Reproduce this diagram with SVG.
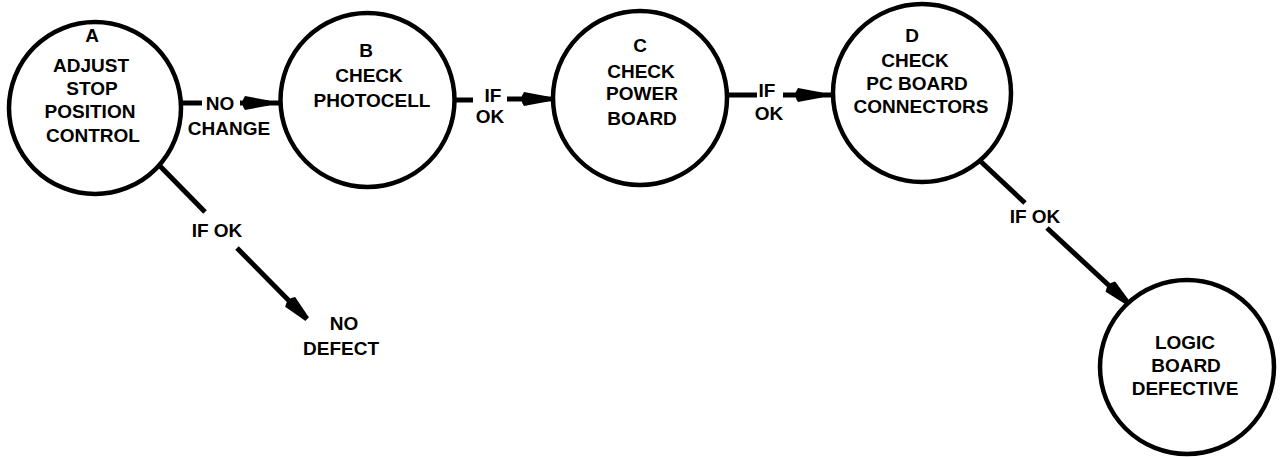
<svg xmlns="http://www.w3.org/2000/svg" width="1280" height="457" viewBox="0 0 1280 457">
<style>
.node{fill:#fff;stroke:#000;stroke-width:4.5}
.t{font-family:"Liberation Sans",Arial,sans-serif;font-size:19px;font-weight:bold;fill:#000;text-anchor:middle}
.c{stroke:#000;stroke-width:5;fill:none;stroke-linecap:butt}
</style>
<defs>
<path id="ah" d="M0,-2.5 L-24,-7 Q-29,0 -24,7 L0,2.5 Z" fill="#000"/>
</defs>
<rect width="1280" height="457" fill="#fff"/>
<g id="connectors">
<line class="c" x1="182" y1="103" x2="202" y2="103"/>
<line class="c" x1="240" y1="103" x2="283" y2="103"/>
<use href="#ah" transform="translate(269,103)"/>
<line class="c" x1="454" y1="100" x2="473" y2="100"/>
<line class="c" x1="507" y1="99" x2="555" y2="99"/>
<use href="#ah" transform="translate(548,99)"/>
<line class="c" x1="727" y1="95" x2="757" y2="95"/>
<line class="c" x1="783" y1="95" x2="832" y2="95"/>
<use href="#ah" transform="translate(822,95)"/>
<line class="c" x1="157" y1="163" x2="205" y2="212"/>
<line class="c" x1="237" y1="248" x2="307" y2="319"/>
<use href="#ah" transform="translate(307,319) rotate(45.4)"/>
<line class="c" x1="977" y1="158" x2="1025" y2="203"/>
<line class="c" x1="1047" y1="228" x2="1130" y2="305"/>
<use href="#ah" transform="translate(1128,303) rotate(42.8)"/>
<text class="t" x="220" y="110">NO</text>
<text class="t" x="229" y="135">CHANGE</text>
<text class="t" x="493" y="102">IF</text>
<text class="t" x="490" y="123">OK</text>
<text class="t" x="767" y="97">IF</text>
<text class="t" x="769" y="120">OK</text>
<text class="t" x="217" y="237">IF OK</text>
<text class="t" x="1035" y="223">IF OK</text>
</g>
<g id="nodeA">
<circle class="node" cx="95" cy="108" r="86"/>
<text class="t" x="92" y="42">A</text>
<text class="t" x="91" y="72">ADJUST</text>
<text class="t" x="92" y="95">STOP</text>
<text class="t" x="90" y="118">POSITION</text>
<text class="t" x="93" y="142">CONTROL</text>
</g>
<g id="nodeB">
<circle class="node" cx="367.5" cy="100" r="87"/>
<text class="t" x="366" y="57">B</text>
<text class="t" x="369" y="82">CHECK</text>
<text class="t" x="372" y="107">PHOTOCELL</text>
</g>
<g id="nodeC">
<circle class="node" cx="640" cy="98" r="87"/>
<text class="t" x="640" y="52">C</text>
<text class="t" x="641" y="78">CHECK</text>
<text class="t" x="642" y="100">POWER</text>
<text class="t" x="642" y="125">BOARD</text>
</g>
<g id="nodeD">
<circle class="node" cx="922" cy="93" r="89"/>
<text class="t" x="912" y="42">D</text>
<text class="t" x="915" y="67">CHECK</text>
<text class="t" x="917" y="90">PC BOARD</text>
<text class="t" x="921" y="113">CONNECTORS</text>
</g>
<g id="nodeNoDefect">
<text class="t" x="344" y="330">NO</text>
<text class="t" x="341" y="355">DEFECT</text>
</g>
<g id="nodeLogic">
<circle class="node" cx="1187" cy="367" r="87"/>
<text class="t" x="1185" y="349">LOGIC</text>
<text class="t" x="1186" y="372">BOARD</text>
<text class="t" x="1185" y="395">DEFECTIVE</text>
</g>
</svg>
